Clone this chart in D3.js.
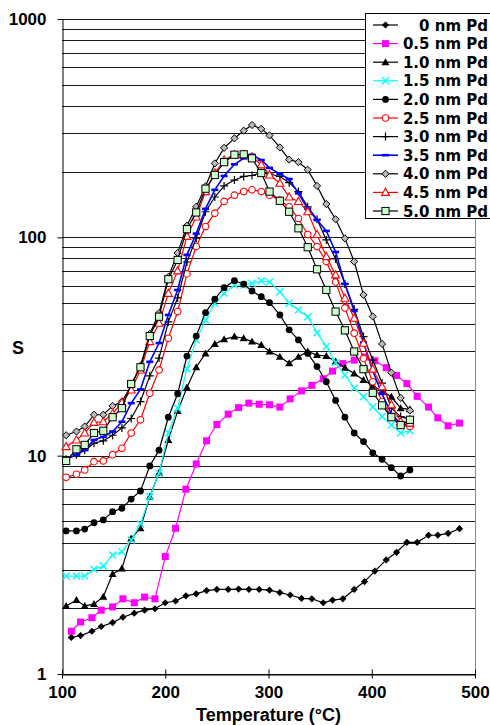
<!DOCTYPE html>
<html>
<head>
<meta charset="utf-8">
<script src="https://cdn.jsdelivr.net/npm/d3@7"></script>
<style>
  body { margin: 0; background: #fff; }
  svg { display: block; }
</style>
</head>
<body>
<div id="chart"></div>
<script>
// temperatures (°C) of the measured points
var tempsLow  = [109,118,129,138,149,159,170,180,190,200,210,220,230,240,250,261,271,281,291,301,311,321,332,342,353,362,372,383,393,403,414,424,434,444,455,464,474,485];
var tempsHigh = [104,114,122,131,140,149,158,167,176,185,194,203,212,221,230,239,248,257,267,276,284,293,301,311,320,329,338,347,356,365,374,383,392,401,410,419,428,437];

// sensitivity S for each Pd thickness
var pd00 = [1.47,1.50,1.57,1.65,1.72,1.82,1.90,1.96,1.99,2.12,2.16,2.28,2.33,2.41,2.44,2.44,2.45,2.44,2.44,2.42,2.36,2.30,2.22,2.21,2.12,2.18,2.21,2.44,2.65,2.96,3.33,3.61,4.01,4.01,4.32,4.33,4.41,4.63];
var pd05 = [1.57,1.73,1.81,1.96,2.03,2.21,2.12,2.25,2.21,3.45,4.65,7.02,9.16,11.7,13.9,15.5,16.6,17.4,17.2,17.1,16.7,18.2,19.8,21.0,22.5,24.4,26.4,27.4,28.3,27.2,25.3,23.3,21.4,18.7,16.7,14.9,13.7,14.1];
var pd10 = [2.05,2.18,2.05,2.09,2.26,2.87,3.04,4.18,4.65,6.49,8.36,11.8,16.0,20.5,25.4,29.4,32.5,34.1,35.1,34.5,33.3,32.1,30.0,28.4,26.5,28.4,30.0,28.9,28.6,27.0,25.3,23.8,22.2,20.9,19.8,18.6,16.5,16.3];
var pd15 = [2.81,2.81,2.81,3.02,3.12,3.51,3.63,4.11,4.87,6.49,8.31,12.7,16.5,25.1,33.9,41.8,49.9,55.4,60.5,60.5,61.6,63.1,62.5,56.4,49.9,46.5,43.3,36.6,31.6,26.7,23.4,20.4,18.6,16.7,15.1,13.8,12.7,13.0];
var pd20 = [4.52,4.52,4.61,4.93,5.08,5.54,5.74,6.33,6.89,8.97,10.6,15.0,19.2,28.6,35.3,45.2,52.1,58.8,63.3,61.0,56.8,53.5,50.2,44.1,37.7,33.9,29.4,25.6,21.8,17.9,15.0,12.7,11.6,10.3,9.63,8.81,8.07,8.60];
var pd25 = [7.96,8.22,8.60,9.39,9.46,10.1,10.8,12.7,14.6,19.3,24.7,34.5,45.7,68.0,90.7,112,129,146,156,162,165,162,156,148,138,122,103,90.7,77.4,62.5,47.5,36.4,27.9,21.8,17.7,15.1,13.8,13.6];
var pd30 = [9.63,10.1,10.6,11.4,11.7,12.4,13.4,14.8,17.7,23.2,28.0,41.0,52.8,77.1,99.1,131,153,172,183,190,192,198,195,190,178,162,138,121,97.3,79.6,61.2,46.8,35.1,27.4,21.5,16.5,15.1,14.7];
var pd35 = [9.63,10.1,10.6,11.8,12.2,12.9,14.3,17.4,20.1,26.9,32.8,44.1,57.4,83.1,104,135,165,191,216,230,239,226,208,195,185,159,135,120,107,85.7,61.2,46.0,33.0,24.4,19.2,15.5,14.0,13.8];
var pd40 = [12.4,12.9,13.6,15.4,15.4,16.9,17.7,20.9,25.8,36.1,45.0,65.9,84.8,113,138,171,218,257,284,308,327,314,293,258,227,221,204,172,142,121,98.9,77.5,54.5,43.4,32.5,24.0,18.4,16.1];
var pd45 = [11.0,11.8,12.7,14.2,14.3,15.6,17.5,20.0,24.7,33.3,40.4,55.4,70.2,101,124,162,197,226,239,239,234,215,193,177,153,146,131,103,81.6,67.3,52.6,42.6,32.7,24.9,20.7,17.1,14.3,14.1];
var pd50 = [9.46,10.7,11.2,12.7,13.0,15.0,16.5,21.3,25.4,35.3,43.3,64.3,78.8,109,130,167,193,221,239,240,230,197,162,147,131,110,90.1,71.4,57.4,45.7,37.5,30.0,24.9,19.4,17.0,15.0,13.8,14.6];

var seriesNames = ["0 nm Pd","0.5 nm Pd","1.0 nm Pd","1.5 nm Pd","2.0 nm Pd","2.5 nm Pd","3.0 nm Pd","3.5 nm Pd","4.0 nm Pd","4.5 nm Pd","5.0 nm Pd"];
var yTicks = [1, 10, 100, 1000];
var xTicks = [100, 200, 300, 400, 500];

var series = [
  {temps: tempsLow,  values: pd00, color: "#000",    marker: "diamond"},
  {temps: tempsLow,  values: pd05, color: "#ff00ff", marker: "square"},
  {temps: tempsHigh, values: pd10, color: "#000",    marker: "triangle"},
  {temps: tempsHigh, values: pd15, color: "#00ffff", marker: "x"},
  {temps: tempsHigh, values: pd20, color: "#000",    marker: "circle"},
  {temps: tempsHigh, values: pd25, color: "#ff0000", marker: "opencircle"},
  {temps: tempsHigh, values: pd30, color: "#000",    marker: "plus"},
  {temps: tempsHigh, values: pd35, color: "#0000ff", marker: "dash"},
  {temps: tempsHigh, values: pd40, color: "#000",    marker: "opendiamond"},
  {temps: tempsHigh, values: pd45, color: "#ff0000", marker: "opentriangle"},
  {temps: tempsHigh, values: pd50, color: "#000",    marker: "greensquare"}
];
series.forEach(function(s, i) { s.name = seriesNames[i]; });

var width = 490, height = 725;
var plot = {left: 62, right: 475, top: 19, bottom: 674};

var svg = d3.select("#chart").append("svg")
    .attr("width", width)
    .attr("height", height);

var x = d3.scaleLinear().domain([100, 500]).range([plot.left, plot.right]);
var y = d3.scaleLog().domain([1, 1000]).range([plot.bottom, plot.top]);

// horizontal gridlines at every log tick
svg.append("g")
  .selectAll("line")
  .data(y.ticks())
  .join("line")
    .attr("x1", plot.left)
    .attr("x2", plot.right)
    .attr("y1", function(d) { return Math.round(y(d)) + 0.5; })
    .attr("y2", function(d) { return Math.round(y(d)) + 0.5; })
    .attr("stroke", "#1a1a1a")
    .attr("stroke-width", 1);

// right border of plot area
svg.append("line")
    .attr("x1", plot.right + 0.5).attr("x2", plot.right + 0.5)
    .attr("y1", plot.top).attr("y2", plot.bottom)
    .attr("stroke", "#888");

// axes
var yAxis = svg.append("g")
    .attr("transform", "translate(" + (plot.left + 0.5) + ",0)")
    .call(d3.axisLeft(y).tickValues(yTicks).tickFormat(d3.format("d"))
      .tickSize(5).tickSizeOuter(0).tickPadding(11));

var xAxis = svg.append("g")
    .attr("transform", "translate(0," + (plot.bottom + 0.5) + ")")
    .call(d3.axisBottom(x).tickValues(xTicks)
      .tickSize(4).tickSizeOuter(0).tickPadding(7));
xAxis.selectAll(".tick line").attr("y1", -5);

[yAxis, xAxis].forEach(function(a) {
  a.attr("font-family", "'Liberation Sans', Arial, sans-serif")
   .attr("font-size", 17)
   .attr("font-weight", "bold");
  a.select(".domain").attr("stroke", "#000");
  a.selectAll(".tick line").attr("stroke", "#000");
  a.selectAll(".tick text").attr("fill", "#000");
});

// marker drawing
function drawMarker(g, type, color) {
  switch (type) {
    case "diamond":
      g.append("path").attr("d", "M0,-3.6L3.6,0L0,3.6L-3.6,0Z").attr("fill", color); break;
    case "square":
      g.append("rect").attr("x", -3.5).attr("y", -3.5).attr("width", 7).attr("height", 7).attr("fill", color); break;
    case "triangle":
      g.append("path").attr("d", "M0,-4L4,3L-4,3Z").attr("fill", color); break;
    case "x":
      g.append("path").attr("d", "M-3.5,-3.5L3.5,3.5M-3.5,3.5L3.5,-3.5").attr("stroke", color).attr("stroke-width", 1.4); break;
    case "circle":
      g.append("circle").attr("r", 3.4).attr("fill", color); break;
    case "opencircle":
      g.append("circle").attr("r", 3.3).attr("fill", "#fff").attr("stroke", color).attr("stroke-width", 1.1); break;
    case "plus":
      g.append("path").attr("d", "M-4,0L4,0M0,-4L0,4").attr("stroke", color).attr("stroke-width", 1.2); break;
    case "dash":
      g.append("path").attr("d", "M-3.5,0L3.5,0").attr("stroke", color).attr("stroke-width", 2.6); break;
    case "opendiamond":
      g.append("path").attr("d", "M0,-3.6L3.6,0L0,3.6L-3.6,0Z").attr("fill", "#b8b8b8").attr("stroke", color).attr("stroke-width", 1); break;
    case "opentriangle":
      g.append("path").attr("d", "M0,-4.2L4,3L-4,3Z").attr("fill", "#fff").attr("stroke", color).attr("stroke-width", 1.1); break;
    case "greensquare":
      g.append("rect").attr("x", -3.6).attr("y", -3.6).attr("width", 7.2).attr("height", 7.2)
        .attr("fill", "#ccffcc").attr("stroke", color).attr("stroke-width", 1); break;
  }
}

var line = d3.line()
    .x(function(d) { return x(d[0]); })
    .y(function(d) { return y(d[1]); });

var seriesG = svg.append("g");
series.forEach(function(s) {
  var pts = s.temps.map(function(t, i) { return [t, s.values[i]]; });
  var g = seriesG.append("g");
  g.append("path")
      .datum(pts)
      .attr("d", line)
      .attr("fill", "none")
      .attr("stroke", s.color)
      .attr("stroke-width", s.marker === "dash" ? 1.6 : 1.2);
  g.selectAll("g.pt")
    .data(pts)
    .join("g")
      .attr("class", "pt")
      .attr("transform", function(d) { return "translate(" + x(d[0]) + "," + y(d[1]) + ")"; })
      .each(function() { drawMarker(d3.select(this), s.marker, s.color); });
});

// axis titles
svg.append("text")
    .attr("x", (plot.left + plot.right) / 2)
    .attr("y", 721)
    .attr("text-anchor", "middle")
    .attr("font-family", "'Liberation Sans', Arial, sans-serif")
    .attr("font-size", 18)
    .attr("font-weight", "bold")
    .text("Temperature (°C)");

svg.append("text")
    .attr("x", 18)
    .attr("y", 354)
    .attr("text-anchor", "middle")
    .attr("font-family", "'Liberation Sans', Arial, sans-serif")
    .attr("font-size", 18)
    .attr("font-weight", "bold")
    .text("S");

// legend
var legend = svg.append("g");
legend.append("rect")
    .attr("x", 365.5).attr("y", 13.5)
    .attr("width", 130).attr("height", 205)
    .attr("fill", "#fff")
    .attr("stroke", "#000");

var rowH = 18.6;
var item = legend.selectAll("g.item")
  .data(series)
  .join("g")
    .attr("class", "item")
    .attr("transform", function(d, i) { return "translate(0," + (25 + i * rowH) + ")"; });

item.append("line")
    .attr("x1", 373).attr("x2", 398)
    .attr("stroke", function(d) { return d.color; })
    .attr("stroke-width", function(d) { return d.marker === "dash" ? 1.6 : 1.2; });
item.append("g")
    .attr("transform", "translate(385.5,0)")
    .each(function(d) { drawMarker(d3.select(this), d.marker, d.color); });
item.append("text")
    .attr("x", 488)
    .attr("y", 5.5)
    .attr("text-anchor", "end")
    .attr("font-family", "'DejaVu Sans', Verdana, sans-serif")
    .attr("font-size", 15)
    .attr("font-weight", "bold")
    .text(function(d) { return d.name; });
</script>
</body>
</html>
